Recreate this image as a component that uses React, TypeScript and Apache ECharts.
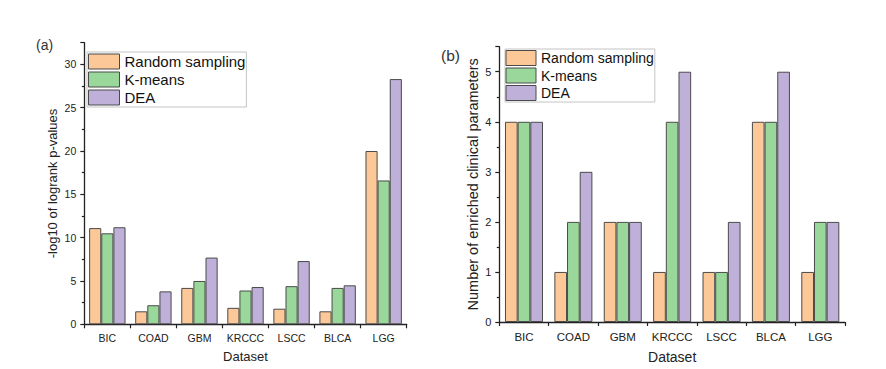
import React, { useEffect, useRef } from "react";
import * as echarts from "echarts";

const categories = ["BIC", "COAD", "GBM", "KRCCC", "LSCC", "BLCA", "LGG"];
const seriesNames = ["Random sampling", "K-means", "DEA"];
const colors = ["#FDC898", "#9AD79A", "#BFB0D9"];

// (a) -log10 of logrank p-values
const pvalRandom = [11.1, 1.5, 4.2, 1.9, 1.8, 1.5, 20.0];
const pvalKmeans = [10.5, 2.2, 5.0, 3.9, 4.4, 4.2, 16.6];
const pvalDEA = [11.2, 3.8, 7.7, 4.3, 7.3, 4.5, 28.3];

// (b) Number of enriched clinical parameters
const clinRandom = [4, 1, 2, 1, 1, 4, 1];
const clinKmeans = [4, 2, 2, 4, 1, 4, 2];
const clinDEA = [4, 3, 2, 5, 2, 5, 2];

const FONT = "Liberation Sans, Arial, sans-serif";
const INK = "#222";

export default function App() {
  const ref = useRef<HTMLDivElement>(null);

  useEffect(() => {
    if (!ref.current) return;
    const chart = echarts.init(ref.current, null, { renderer: "svg" });

    const makeX = (gridIndex: number, labelSize: number, nameSize: number, nameGap: number, labelMargin: number) => ({
      type: "category",
      gridIndex,
      data: categories,
      name: "Dataset",
      nameLocation: "middle",
      nameGap,
      nameTextStyle: { fontSize: nameSize, color: INK, fontFamily: FONT },
      axisLine: { show: true, lineStyle: { color: INK, width: 1.3 } },
      axisTick: { show: true, length: 4, inside: false, lineStyle: { color: INK, width: 1.2 } },
      axisLabel: { fontSize: labelSize, color: INK, fontFamily: FONT, margin: labelMargin, interval: 0 },
      splitLine: { show: false },
    });

    const makeY = (gridIndex: number, max: number, interval: number, name: string, nameSize: number, nameGap: number, labelSize: number) => ({
      type: "value",
      gridIndex,
      min: 0,
      max,
      interval,
      name,
      nameLocation: "middle",
      nameGap,
      nameTextStyle: { fontSize: nameSize, color: INK, fontFamily: FONT },
      axisLine: { show: true, lineStyle: { color: INK, width: 1.3 } },
      axisTick: { show: true, length: 4, inside: false, lineStyle: { color: INK, width: 1.2 } },
      minorTick: { show: true, splitNumber: 2, length: 2.5, lineStyle: { color: INK, width: 1.2 } },
      axisLabel: { fontSize: labelSize, color: INK, fontFamily: FONT, margin: 8, showMaxLabel: false },
      splitLine: { show: false },
      minorSplitLine: { show: false },
    });

    const barStyle = (i: number) => ({ color: colors[i], borderColor: "#4a4a4a", borderWidth: 1 });

    const mkSeries = (data: number[], i: number, axis: number, gap: string) => ({
      type: "bar",
      name: seriesNames[i],
      data,
      xAxisIndex: axis,
      yAxisIndex: axis,
      barGap: "0%",
      barCategoryGap: gap,
      itemStyle: barStyle(i),
      emphasis: { disabled: true },
    });

    const legendBase = {
      orient: "vertical",
      selectedMode: false,
      icon: "rect",
      itemWidth: 31,
      itemHeight: 15,
      backgroundColor: "#fff",
      borderColor: "#c4c4c4",
      borderWidth: 1,
      data: seriesNames,
      itemStyle: { borderColor: "#4a4a4a", borderWidth: 1 },
    };

    chart.setOption({
      animation: false,
      title: [
        { text: "(a)", left: 36, top: 38, padding: 0, textStyle: { fontSize: 14, fontWeight: "normal", color: "#333", fontFamily: FONT } },
        { text: "(b)", left: 441, top: 47, padding: 0, textStyle: { fontSize: 15.5, fontWeight: "normal", color: "#333", fontFamily: FONT } },
      ],
      legend: [
        {
          ...legendBase,
          left: 87,
          top: 52,
          itemGap: 2,
          padding: [1.5, 1, 1.5, 1],
          textStyle: { fontSize: 15, color: "#111", fontFamily: FONT, lineHeight: 15 },
        },
        {
          ...legendBase,
          left: 505,
          top: 49,
          itemWidth: 30,
          itemGap: 1.5,
          padding: [1, 1, 1, 0.5],
          textStyle: { fontSize: 14, color: "#111", fontFamily: FONT, lineHeight: 15 },
        },
      ],
      grid: [
        { left: 84.3, right: 479.3, top: 42.7, bottom: 44.7, containLabel: false },
        { left: 499.3, right: 41, top: 46.7, bottom: 44, containLabel: false },
      ],
      xAxis: [makeX(0, 10.5, 13, 26, 8), makeX(1, 11.5, 14, 28, 9)],
      yAxis: [
        makeY(0, 32.5, 5, "-log10 of logrank p-values", 13, 25, 10.5),
        makeY(1, 5.5, 1, "Number of enriched clinical parameters", 14.5, 19, 11),
      ],
      series: [
        mkSeries(pvalRandom, 0, 0, "21%"),
        mkSeries(pvalKmeans, 1, 0, "21%"),
        mkSeries(pvalDEA, 2, 0, "21%"),
        mkSeries(clinRandom, 0, 1, "23%"),
        mkSeries(clinKmeans, 1, 1, "23%"),
        mkSeries(clinDEA, 2, 1, "23%"),
      ],
    });

    return () => chart.dispose();
  }, []);

  return (
    <div
      ref={ref}
      style={{ position: "fixed", left: 0, top: 0, width: 886, height: 369, background: "#fff" }}
    />
  );
}
